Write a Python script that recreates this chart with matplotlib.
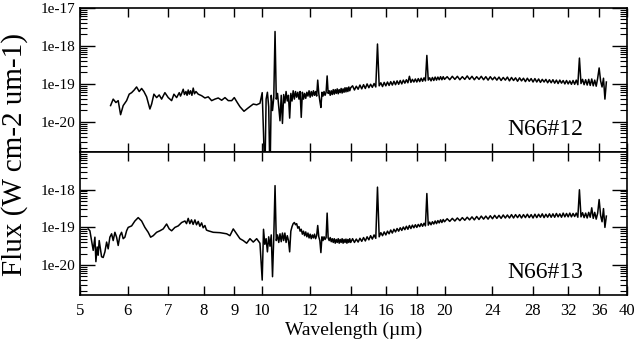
import numpy as np
import matplotlib.pyplot as plt
from matplotlib.ticker import FixedLocator, FuncFormatter, LogLocator, NullLocator, NullFormatter

plt.rcParams['font.family'] = ['Liberation Serif', 'DejaVu Serif']

# low resolution part (5-10 um), log10 flux in W cm-2 um-1
wave_lo_12 = [5.619, 5.675, 5.734, 5.784, 5.837, 5.895, 5.972, 6.031, 6.087, 6.147,
              6.203, 6.265, 6.323, 6.378, 6.444, 6.525, 6.568, 6.625, 6.694, 6.760,
              6.822, 6.908, 6.996, 7.087, 7.149, 7.223, 7.295, 7.330, 7.362, 7.406,
              7.440, 7.483, 7.515, 7.548, 7.580, 7.617, 7.655, 7.693, 7.730, 7.773,
              7.841, 7.943, 8.043, 8.145, 8.251, 8.355, 8.461, 8.572, 8.680, 8.790,
              8.905, 8.993, 9.096, 9.189, 9.331, 9.484, 9.666, 9.792, 9.915]
flux_lo_12 = [-19.57, -19.40, -19.49, -19.44, -19.81, -19.57, -19.44, -19.27, -19.23, -19.16,
              -19.08, -19.20, -19.12, -19.20, -19.34, -19.66, -19.53, -19.27, -19.36, -19.29,
              -19.40, -19.23, -19.36, -19.44, -19.27, -19.36, -19.23, -19.32, -19.25, -19.14,
              -19.28, -19.20, -19.30, -19.16, -19.27, -19.18, -19.30, -19.11, -19.26, -19.20,
              -19.27, -19.31, -19.37, -19.34, -19.44, -19.40, -19.37, -19.43, -19.36, -19.44,
              -19.44, -19.36, -19.49, -19.60, -19.72, -19.63, -19.53, -19.55, -19.51]

wave_lo_13 = [5.160, 5.194, 5.228, 5.260, 5.294, 5.314, 5.340, 5.360, 5.381, 5.410,
              5.430, 5.463, 5.499, 5.535, 5.568, 5.604, 5.641, 5.675, 5.712, 5.749,
              5.784, 5.821, 5.859, 5.895, 5.933, 5.972, 6.008, 6.087, 6.163, 6.241,
              6.323, 6.402, 6.483, 6.543, 6.608, 6.694, 6.778, 6.864, 6.953, 7.022,
              7.087, 7.176, 7.267, 7.362, 7.455, 7.500, 7.548, 7.595, 7.642, 7.690,
              7.743, 7.790, 7.841, 7.890, 7.943, 7.990, 8.043, 8.090, 8.145, 8.301,
              8.516, 8.736, 8.846, 8.958, 9.075, 9.189, 9.305, 9.426, 9.545, 9.666,
              9.792, 9.915]
flux_lo_13 = [-19.04, -19.09, -19.35, -19.61, -19.26, -19.91, -19.52, -19.74, -19.35, -19.61,
              -19.78, -19.80, -19.65, -19.39, -19.57, -19.26, -19.17, -19.35, -19.13, -19.26,
              -19.48, -19.22, -19.13, -19.30, -19.26, -19.09, -19.00, -18.96, -18.83, -18.74,
              -18.83, -19.00, -19.13, -19.26, -19.22, -19.13, -19.09, -19.04, -18.91, -19.04,
              -19.09, -19.00, -18.96, -18.87, -18.83, -18.90, -18.76, -18.90, -18.80, -18.92,
              -18.80, -18.93, -18.84, -18.97, -18.88, -19.01, -18.95, -19.07, -19.09, -19.13,
              -19.14, -19.17, -19.22, -19.04, -19.17, -19.30, -19.35, -19.42, -19.30, -19.39,
              -19.30, -19.42]

# high resolution part (10-37 um), same grid for both sources
wave_hi = [10.00, 10.05, 10.10, 10.15, 10.20, 10.25, 10.30, 10.35, 10.40, 10.45,
           10.50, 10.55, 10.60, 10.65, 10.70, 10.75, 10.80, 10.85, 10.90, 10.95,
           11.00, 11.05, 11.10, 11.15, 11.20, 11.25, 11.30, 11.35, 11.40, 11.45,
           11.50, 11.55, 11.60, 11.65, 11.70, 11.75, 11.80, 11.85, 11.90, 11.95,
           12.00, 12.05, 12.10, 12.15, 12.20, 12.25, 12.30, 12.35, 12.40, 12.45,
           12.50, 12.55, 12.60, 12.65, 12.70, 12.75, 12.80, 12.85, 12.90, 12.95,
           13.00, 13.05, 13.10, 13.15, 13.20, 13.25, 13.30, 13.35, 13.40, 13.45,
           13.50, 13.55, 13.60, 13.65, 13.70, 13.75, 13.80, 13.85, 13.90, 13.95,
           14.00,
           14.1, 14.2, 14.3, 14.4, 14.5, 14.6, 14.7, 14.8, 14.9,
           15.0, 15.1, 15.2, 15.3, 15.4, 15.5, 15.6, 15.7, 15.8, 15.9,
           16.0, 16.1, 16.2, 16.3, 16.4, 16.5, 16.6, 16.7, 16.8, 16.9,
           17.0, 17.1, 17.2, 17.3, 17.4, 17.5, 17.6, 17.7, 17.8, 17.9,
           18.0, 18.1, 18.2, 18.3, 18.4, 18.5, 18.6, 18.7, 18.8, 18.9,
           19.0, 19.1, 19.2, 19.3, 19.4, 19.5, 19.6, 19.7, 19.8, 19.9,
           20.0,
           20.2, 20.4, 20.6, 20.8, 21.0, 21.2, 21.4, 21.6, 21.8, 22.0,
           22.2, 22.4, 22.6, 22.8, 23.0, 23.2, 23.4, 23.6, 23.8, 24.0,
           24.2, 24.4, 24.6, 24.8, 25.0, 25.2, 25.4, 25.6, 25.8, 26.0,
           26.2, 26.4, 26.6, 26.8, 27.0, 27.2, 27.4, 27.6, 27.8, 28.0,
           28.2, 28.4, 28.6, 28.8, 29.0, 29.2, 29.4, 29.6, 29.8, 30.0,
           30.2, 30.4, 30.6, 30.8, 31.0, 31.2, 31.4, 31.6, 31.8, 32.0,
           32.2, 32.4, 32.6, 32.8, 33.0, 33.2, 33.4, 33.6, 33.8, 34.0,
           34.2, 34.4, 34.6, 34.8, 35.0, 35.2, 35.4, 35.6, 35.8, 36.0,
           36.2, 36.4, 36.6, 36.8, 37.0]

flux_hi_12 = [-19.23, -20.30, -21.50, -19.40, -19.22, -19.60, -21.50, -19.30, -19.70, -19.35,
              -17.62, -19.40, -19.25, -19.60, -19.97, -19.30, -20.04, -19.28, -19.50, -19.20,
              -19.45, -19.30, -19.90, -19.25, -19.45, -19.18, -19.40, -19.20, -19.35, -19.22,
              -19.40, -19.20, -19.88, -19.22, -19.40, -19.25, -19.38, -19.22, -19.32, -19.18,
              -19.35, -19.20, -19.32, -19.18, -19.30, -19.20, -19.32, -18.90, -19.25, -19.45,
              -19.62, -19.22, -19.32, -19.20, -19.30, -19.22, -18.79, -19.25, -19.18, -19.30,
              -19.18, -19.28, -19.15, -19.27, -19.15, -19.25, -19.13, -19.26, -19.15, -19.23,
              -19.12, -19.24, -19.13, -19.22, -19.10, -19.21, -19.10, -19.20, -19.08, -19.18,
              -19.10,
              -19.05, -19.16, -19.06, -19.14, -19.03, -19.13, -19.02, -19.12, -19.00,
              -19.10, -19.01, -19.09, -18.99, -19.08, -17.95, -19.05, -18.97, -19.07, -18.96,
              -19.05, -18.95, -19.04, -18.94, -19.03, -18.93, -19.02, -18.92, -19.01, -18.91,
              -19.00, -18.90, -18.98, -18.89, -18.97, -18.80, -18.96, -18.88, -18.95, -18.87,
              -18.95, -18.86, -18.94, -18.85, -18.93, -18.84, -18.92, -18.25, -18.90, -18.84,
              -18.92, -18.83, -18.91, -18.82, -18.90, -18.82, -18.89, -18.81, -18.89, -18.81,
              -18.88,
              -18.81, -18.89, -18.80, -18.88, -18.80, -18.89, -18.81, -18.88, -18.79, -18.88,
              -18.80, -18.89, -18.81, -18.88, -18.80, -18.89, -18.81, -18.90, -18.81, -18.89,
              -18.82, -18.90, -18.82, -18.91, -18.83, -18.90, -18.82, -18.92, -18.83, -18.91,
              -18.84, -18.93, -18.84, -18.92, -18.85, -18.94, -18.85, -18.93, -18.86, -18.95,
              -18.86, -18.95, -18.87, -18.96, -18.88, -18.95, -18.88, -18.97, -18.89, -18.97,
              -18.89, -18.98, -18.90, -18.99, -18.90, -18.98, -18.91, -19.00, -18.91, -19.00,
              -18.92, -19.01, -18.91, -19.01, -18.90, -19.02, -18.32, -18.99, -18.88, -19.02,
              -18.89, -19.03, -18.88, -19.04, -18.87, -19.05, -18.90, -19.06, -18.85, -18.58,
              -18.92, -19.08, -18.85, -19.40, -18.95]

flux_hi_13 = [-20.40, -19.05, -19.45, -19.30, -19.65, -19.25, -19.50, -19.20, -20.31, -19.25,
              -17.89, -19.35, -19.20, -19.40, -19.17, -19.38, -19.15, -19.35, -19.15, -19.40,
              -19.22, -19.35, -19.65, -19.10, -18.98, -18.90, -18.87, -18.93, -18.90, -19.02,
              -18.98, -19.10, -19.05, -19.18, -19.10, -19.22, -19.12, -19.25, -19.15, -19.28,
              -19.18, -19.30, -19.20, -19.28, -19.18, -19.30, -19.22, -18.95, -19.25, -19.35,
              -19.67, -19.25, -19.35, -19.25, -19.32, -19.27, -18.62, -19.28, -19.35, -19.27,
              -19.38, -19.30, -19.40, -19.30, -19.42, -19.32, -19.40, -19.30, -19.42, -19.32,
              -19.40, -19.30, -19.42, -19.32, -19.40, -19.31, -19.42, -19.32, -19.40, -19.30,
              -19.40,
              -19.30, -19.40, -19.31, -19.39, -19.29, -19.37, -19.27, -19.36, -19.25,
              -19.33, -19.22, -19.31, -19.20, -19.29, -17.93, -19.25, -19.14, -19.22, -19.12,
              -19.20, -19.10, -19.17, -19.07, -19.15, -19.05, -19.12, -19.03, -19.10, -19.01,
              -19.08, -18.99, -19.06, -18.97, -19.05, -18.95, -19.03, -18.94, -19.01, -18.93,
              -19.00, -18.92, -18.98, -18.90, -18.97, -18.89, -18.96, -18.10, -18.94, -18.86,
              -18.93, -18.85, -18.91, -18.83, -18.90, -18.82, -18.88, -18.80, -18.87, -18.79,
              -18.85,
              -18.77, -18.84, -18.76, -18.83, -18.75, -18.82, -18.74, -18.81, -18.73, -18.80,
              -18.72, -18.80, -18.71, -18.79, -18.70, -18.78, -18.70, -18.78, -18.69, -18.77,
              -18.68, -18.76, -18.68, -18.76, -18.67, -18.75, -18.67, -18.75, -18.66, -18.75,
              -18.66, -18.74, -18.66, -18.75, -18.66, -18.74, -18.65, -18.74, -18.66, -18.75,
              -18.65, -18.74, -18.65, -18.73, -18.64, -18.74, -18.65, -18.73, -18.64, -18.73,
              -18.64, -18.73, -18.63, -18.72, -18.64, -18.73, -18.62, -18.72, -18.63, -18.72,
              -18.62, -18.72, -18.63, -18.71, -18.62, -18.73, -18.00, -18.72, -18.61, -18.74,
              -18.62, -18.75, -18.60, -18.73, -18.48, -18.76, -18.60, -18.78, -18.62, -18.26,
              -18.68, -18.85, -18.50, -19.00, -18.70]

labels = ["N66#12", "N66#13"]
xticks = [5, 6, 7, 8, 9, 10, 12, 14, 16, 18, 20, 24, 28, 32, 36, 40]

spectra = [
    (wave_lo_12 + wave_hi, flux_lo_12 + flux_hi_12),
    (wave_lo_13 + wave_hi, flux_lo_13 + flux_hi_13),
]

fig = plt.figure(figsize=(6.39, 3.45), dpi=100)
ax_top = fig.add_axes([0.125, 0.559, 0.856, 0.418])
ax_bot = fig.add_axes([0.125, 0.145, 0.856, 0.414], sharex=ax_top)


def fmt_log(v, pos):
    return "1e%d" % int(round(np.log10(v)))


for ax, (w, f), name in zip([ax_top, ax_bot], spectra, labels):
    ax.plot(w, 10 ** np.array(f), color="black", lw=1.1)
    ax.set_xscale("log")
    ax.set_yscale("log")
    ax.set_xlim(5, 40)
    ax.set_ylim(1.6e-21, 1e-17)
    ax.xaxis.set_major_locator(FixedLocator(xticks))
    ax.xaxis.set_minor_locator(NullLocator())
    ax.yaxis.set_minor_locator(LogLocator(base=10, subs=np.arange(2, 10), numticks=10))
    ax.yaxis.set_minor_formatter(NullFormatter())
    ax.tick_params(which="both", direction="in", top=True, right=True)
    ax.tick_params(axis="y", labelsize=11)
    ax.tick_params(axis="x", labelsize=12, pad=6)
    ax.tick_params(axis="x", which="major", length=6.5, width=1)
    ax.tick_params(axis="y", which="major", length=11, width=1)
    ax.tick_params(axis="y", which="minor", length=5, width=0.8)
    for s in ax.spines.values():
        s.set_linewidth(1.2)
    ax.text(0.92, 0.16, name, transform=ax.transAxes, ha="right", va="center", fontsize=17)

ax_top.yaxis.set_major_locator(FixedLocator([1e-20, 1e-19, 1e-18, 1e-17]))
ax_bot.yaxis.set_major_locator(FixedLocator([1e-20, 1e-19, 1e-18]))
for ax in (ax_top, ax_bot):
    ax.yaxis.set_major_formatter(FuncFormatter(fmt_log))

ax_top.tick_params(axis="x", labelbottom=False)
ax_bot.set_xticklabels([str(t) for t in xticks])
ax_bot.set_xlabel("Wavelength (\u00b5m)", fontsize=14, labelpad=2)

fig.text(0.022, 0.551, "Flux (W cm-2 um-1)", rotation=90, ha="center", va="center", fontsize=21)

fig.savefig("out.png", dpi=100)
